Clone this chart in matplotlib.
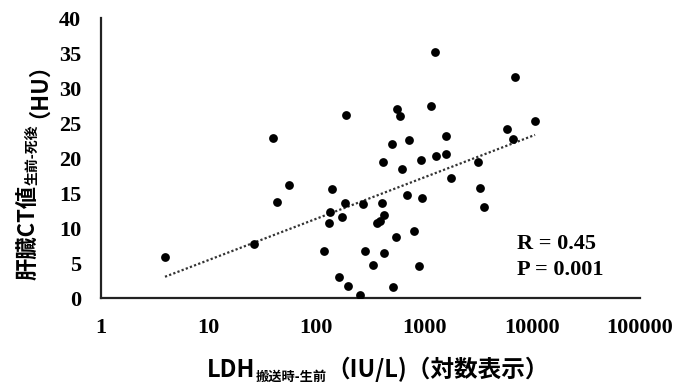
import numpy as np
import matplotlib
matplotlib.use('Agg')
import matplotlib.pyplot as plt
from matplotlib.ticker import NullLocator

# LDH (搬送時-生前) and liver CT difference (生前-死後)
ldh = [3.96, 26.6, 39.4, 43.5, 55.5, 187, 139, 134, 130, 184.5, 174, 273,
       118.6, 163, 198, 254, 283, 337, 421, 511, 551, 409, 427, 389, 363,
       415, 500, 556, 597, 627, 1268, 6950, 10650, 5890, 6700, 1148, 728,
       1582, 929, 1278, 1582, 3133, 1762, 3289, 3580, 689, 954, 800, 901]
ct = [5.94, 7.71, 22.86, 13.8, 16.19, 26.19, 15.57, 12.37, 10.8, 13.57, 11.57, 13.43,
      6.8, 3.09, 1.76, 0.47, 6.76, 4.71, 6.43, 1.57, 8.71, 13.61, 11.9, 11.09, 10.8,
      19.51, 22.0, 27.0, 26.04, 18.51, 35.14, 31.66, 25.33, 24.19, 22.71, 27.43, 22.66,
      23.23, 19.76, 20.29, 20.57, 19.47, 17.19, 15.76, 13.09, 14.76, 14.33, 9.66, 4.61]

x_ticks = [1, 10, 100, 1000, 10000, 100000]
x_tick_labels = ['1', '10', '100', '1000', '10000', '100000']
y_ticks = [0, 5, 10, 15, 20, 25, 30, 35, 40]

W, H = 690, 383
cjk = ['Noto Sans CJK JP', 'DejaVu Sans']
serif = 'Liberation Serif'

fig = plt.figure(figsize=(W / 100, H / 100), dpi=100)
ax = fig.add_axes([100.5 / W, (H - 298.3) / H, (640 - 100.5) / W, 280 / H])

ax.scatter(ldh, ct, s=40, c='black', linewidths=0, zorder=3)

# logarithmic trend line
b, a = np.polyfit(np.log10(ldh), ct, 1)
xs = np.array([min(ldh), max(ldh)])
ax.plot(xs, a + b * np.log10(xs), color='#333333', lw=1.6,
        linestyle=(0, (1, 1)), zorder=2)

ax.set_xscale('log')
ax.set_xlim(1, 100000)
ax.set_ylim(0, 40)
ax.set_xticks(x_ticks)
ax.set_xticklabels(x_tick_labels)
ax.xaxis.set_minor_locator(NullLocator())
ax.set_yticks(y_ticks)
ax.tick_params(length=0, pad=14, labelsize=16)
for lab in ax.get_xticklabels() + ax.get_yticklabels():
    lab.set_fontfamily(serif)
    lab.set_fontweight('bold')
for s in ['top', 'right']:
    ax.spines[s].set_visible(False)
for s in ['left', 'bottom']:
    ax.spines[s].set_linewidth(1.6)
    ax.spines[s].set_color('#222222')

fig.text(517 / W, (H - 244) / H, 'R = 0.45', fontsize=16, fontweight='bold',
         family=serif, va='center', ha='left')
fig.text(517 / W, (H - 270) / H, 'P = 0.001', fontsize=16, fontweight='bold',
         family=serif, va='center', ha='left')


def pieces_label(pieces, center, base, rot=0):
    # pieces: (text, size, shift px, gap before px); laid out along the baseline
    r = fig.canvas.get_renderer()
    objs = []
    for s, size, dy, gap in pieces:
        t = fig.text(0, 0, s, fontsize=size, fontweight='bold', family=cjk,
                     rotation=rot, rotation_mode='anchor', ha='left', va='baseline')
        objs.append(t)
    lens = []
    for t, p in zip(objs, pieces):
        bb = t.get_window_extent(r)
        lens.append((bb.width if rot == 0 else bb.height) + p[3])
    pos = center - sum(lens) / 2
    for t, (s, size, dy, gap), L in zip(objs, pieces, lens):
        pos += gap
        if rot == 0:
            t.set_position((pos / W, (H - base - dy) / H))
        else:
            t.set_position(((base + dy) / W, pos / H))
        pos += L - gap


pieces_label([('LDH', 17, 0, 0), ('搬送時-生前', 9.5, 3.5, 0),
              ('（IU/L)（対数表示）', 17, 0, 0)], 378, 377)
pieces_label([('肝臓CT値', 16, 0, 0), ('生前-死後', 10, 3, 0), ('（HU）', 16, 0, 6)],
             H - 160, 34, rot=90)

fig.savefig('out.png', dpi=100)
